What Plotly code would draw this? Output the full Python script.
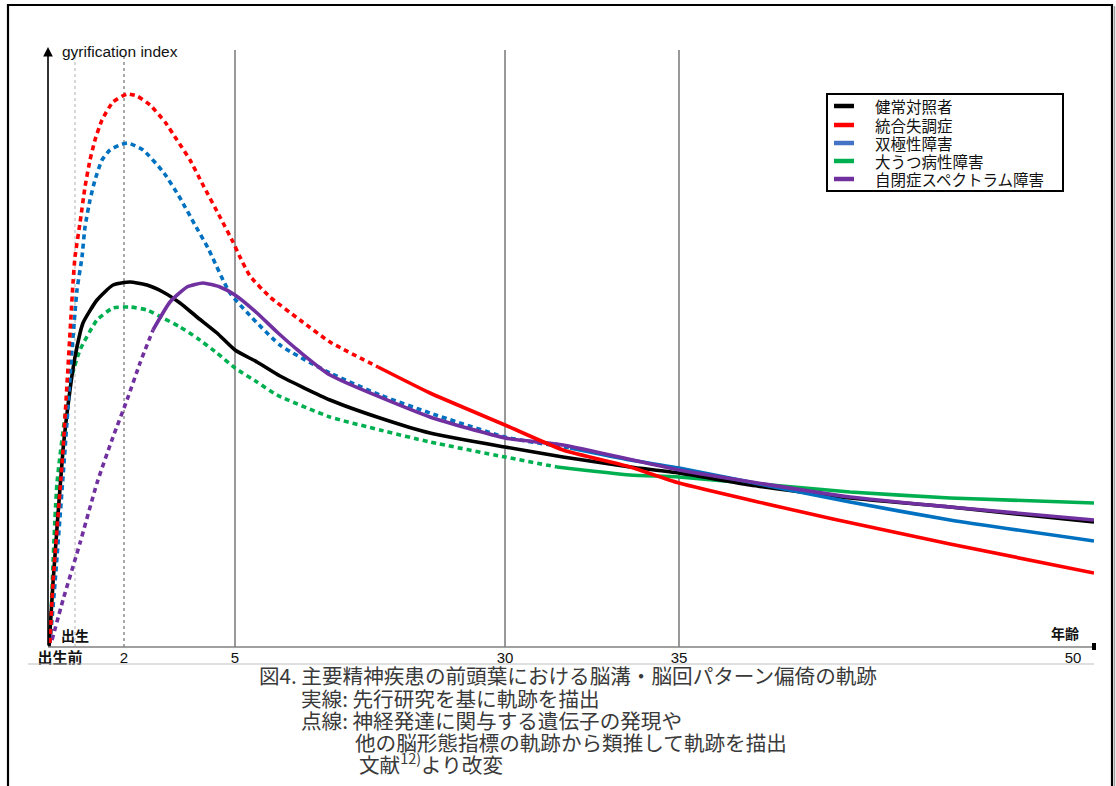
import plotly.graph_objects as go

# ---------------- data (schematic units: horizontal = position along the age axis,
# vertical = gyrification index, both arbitrary as in the original schematic) ----------
tick_pos = [12, 76, 187, 457, 631, 1025]
tick_text = ["出生前", "2", "5", "30", "35", "50"]
birth_pos = 27
dotted_guides = [27, 76]
solid_guides = [187, 457, 631]

series_names = ["健常対照者", "統合失調症", "双極性障害", "大うつ病性障害", "自閉症スペクトラム障害"]
series_colors = ["#000000", "#FF0000", "#0070C0", "#00B050", "#7030A0"]
legend_colors = ["#000000", "#FF0000", "#4472C4", "#00B050", "#7030A0"]

# 健常対照者 (solid throughout)
hc_x = [1, 5, 15, 22, 27, 35, 49, 65, 82, 99, 115, 132, 149, 169, 187, 209, 232,
        282, 332, 382, 457, 515, 582, 631, 702, 802, 902, 1046]
hc_y = [0, 64, 197, 257, 290, 324, 347, 362, 365, 362, 355, 344, 330, 314, 297, 285, 271,
        247, 229, 214, 200, 190, 180, 174, 162, 149, 140, 125]

# 統合失調症
scz_dot_x = [2, 5, 15, 25, 27, 32, 37, 42, 47, 54, 65, 79, 89, 102, 117, 129, 142, 155,
             172, 185, 192, 202, 222, 252, 282, 330]
scz_dot_y = [4, 64, 197, 364, 390, 424, 460, 487, 507, 527, 545, 553, 551, 542, 525, 507,
             487, 462, 430, 405, 390, 371, 350, 327, 305, 280]
scz_sol_x = [330, 382, 457, 515, 582, 631, 785, 902, 1046]
scz_sol_y = [280, 254, 222, 197, 180, 164, 128, 103, 74]

# 双極性障害
bp_dot_x = [2, 7, 17, 24, 29, 34, 37, 42, 47, 54, 62, 72, 80, 95, 116, 132, 147, 160,
            182, 232, 282, 332, 382, 457, 522]
bp_dot_y = [4, 64, 197, 297, 357, 390, 420, 447, 467, 487, 497, 502, 504, 497, 474, 449,
            422, 399, 354, 302, 274, 252, 234, 210, 199]
bp_sol_x = [522, 582, 631, 802, 902, 1046]
bp_sol_y = [199, 187, 179, 145, 127, 106]

# 大うつ病性障害
mdd_dot_x = [2, 9, 22, 32, 49, 65, 82, 99, 115, 132, 149, 169, 187, 209, 229, 282, 332,
             382, 457, 509]
mdd_dot_y = [4, 164, 264, 297, 327, 339, 340, 337, 329, 320, 309, 294, 279, 265, 252, 230,
             217, 205, 190, 180]
mdd_sol_x = [509, 582, 631, 802, 902, 1046]
mdd_sol_y = [180, 172, 170, 155, 149, 144]

# 自閉症スペクトラム障害
asd_dot_x = [4, 15, 32, 49, 65, 79, 92, 105]
asd_dot_y = [7, 47, 104, 164, 210, 247, 284, 317]
asd_sol_x = [105, 122, 139, 155, 172, 187, 209, 229, 252, 282, 382, 457, 515, 631, 802,
             902, 1046]
asd_sol_y = [317, 345, 360, 364, 360, 352, 334, 315, 295, 272, 230, 209, 202, 177, 150,
             140, 127]

caption_lines = [
    "図4. 主要精神疾患の前頭葉における脳溝・脳回パターン偏倚の軌跡",
    "実線: 先行研究を基に軌跡を描出",
    "点線: 神経発達に関与する遺伝子の発現や",
    "他の脳形態指標の軌跡から類推して軌跡を描出",
    "文献<sup>12)</sup>より改変",
]

# ---------------- figure geometry (pixels) ----------------
W, H = 1116, 786
L, R, T, B = 48, 1094, 47, 647          # plot area in pixels
XMAX, YMAX = R - L, B - T


def px(xp):
    return (xp - L) / (R - L)


def py(yp):
    return (B - yp) / (B - T)


CJK = "Noto Sans CJK JP"
LAT = "Liberation Sans, Arial, " + CJK
DOT = "5px,4px"
LW = 3.6

fig = go.Figure()


def add_line(x, y, color, dash):
    fig.add_trace(go.Scatter(x=x, y=y, mode="lines", showlegend=False, hoverinfo="skip",
                             line=dict(color=color, width=LW, dash=dash,
                                       shape="spline", smoothing=0.5)))


add_line(mdd_dot_x, mdd_dot_y, series_colors[3], DOT)
add_line(mdd_sol_x, mdd_sol_y, series_colors[3], "solid")
add_line(hc_x, hc_y, series_colors[0], "solid")
add_line(bp_dot_x, bp_dot_y, series_colors[2], DOT)
add_line(bp_sol_x, bp_sol_y, series_colors[2], "solid")
add_line(asd_dot_x, asd_dot_y, series_colors[4], DOT)
add_line(asd_sol_x, asd_sol_y, series_colors[4], "solid")
add_line(scz_dot_x, scz_dot_y, series_colors[1], DOT)
add_line(scz_sol_x, scz_sol_y, series_colors[1], "solid")

shapes = []
# guide lines
shapes.append(dict(type="line", xref="x", yref="paper", x0=dotted_guides[0], x1=dotted_guides[0],
                   y0=0, y1=py(55), line=dict(color="#b0b0b0", width=1, dash="dot"), layer="below"))
shapes.append(dict(type="line", xref="x", yref="paper", x0=dotted_guides[1], x1=dotted_guides[1],
                   y0=0, y1=py(57), line=dict(color="#555555", width=1, dash="dot"), layer="below"))
for g in solid_guides:
    shapes.append(dict(type="line", xref="x", yref="paper", x0=g, x1=g, y0=0, y1=py(50),
                       line=dict(color="#555555", width=1.2), layer="below"))
# x axis line, end mark and lower grey rule
shapes.append(dict(type="line", xref="paper", yref="paper", x0=0, x1=1, y0=0, y1=0,
                   line=dict(color="#808080", width=1.6)))
shapes.append(dict(type="rect", xref="paper", yref="paper", x0=px(1092), x1=px(1096),
                   y0=py(650), y1=py(643), fillcolor="black", line=dict(width=0)))
shapes.append(dict(type="line", xref="paper", yref="paper", x0=px(28), x1=px(1094),
                   y0=py(664), y1=py(664), line=dict(color="#c0c0c0", width=1.2)))
# outer frame
shapes.append(dict(type="line", xref="paper", yref="paper", x0=px(8), x1=px(8),
                   y0=py(4), y1=py(790), line=dict(color="black", width=2.2)))
shapes.append(dict(type="line", xref="paper", yref="paper", x0=px(7), x1=px(1113),
                   y0=py(5), y1=py(5), line=dict(color="black", width=2.2)))
shapes.append(dict(type="line", xref="paper", yref="paper", x0=px(1112), x1=px(1112),
                   y0=py(4), y1=py(790), line=dict(color="black", width=2.2)))
shapes.append(dict(type="line", xref="paper", yref="paper", x0=px(1114.5), x1=px(1114.5),
                   y0=py(6), y1=py(790), line=dict(color="#a0a0a0", width=1.5)))

annotations = []

# legend box (drawn by hand for the original's compact row spacing)
shapes.append(dict(type="rect", xref="paper", yref="paper", x0=px(827), x1=px(1063),
                   y0=py(191), y1=py(94), fillcolor="white",
                   line=dict(color="black", width=2)))
leg_rows = [106, 125, 143, 161, 179]
for name, col, ry in zip(series_names, legend_colors, leg_rows):
    shapes.append(dict(type="line", xref="paper", yref="paper", x0=px(834), x1=px(854),
                       y0=py(ry), y1=py(ry), line=dict(color=col, width=4.5)))
    annotations.append(dict(x=px(873), y=py(ry), xref="paper", yref="paper",
                            xanchor="left", yanchor="middle", showarrow=False, text=name,
                            font=dict(family=CJK, size=15.5, color="#111111")))

# y axis with arrow
annotations.append(dict(x=0, y=YMAX, xref="x", yref="y", ax=0, ay=YMAX, axref="pixel",
                        ayref="pixel", text="", showarrow=True, arrowhead=2, arrowsize=1.2,
                        arrowwidth=1.6, arrowcolor="black"))
annotations.append(dict(x=px(60), y=py(52), xref="paper", yref="paper", xanchor="left",
                        yanchor="middle", showarrow=False, text="gyrification index",
                        font=dict(family=LAT, size=15.5, color="#111111")))
annotations.append(dict(x=birth_pos, y=B - 635, xref="x", yref="y", xanchor="center",
                        yanchor="middle", showarrow=False, text="<b>出生</b>",
                        font=dict(family=CJK, size=14, color="#111111")))
annotations.append(dict(x=px(1065), y=py(633), xref="paper", yref="paper", xanchor="center",
                        yanchor="middle", showarrow=False, text="<b>年齢</b>",
                        font=dict(family=CJK, size=14, color="#111111")))
# caption
cap_x = [257, 299, 299, 353, 357]
cap_y = [675, 698, 720, 742, 763]
for t, cx, cy in zip(caption_lines, cap_x, cap_y):
    annotations.append(dict(x=px(cx), y=py(cy), xref="paper", yref="paper", xanchor="left",
                            yanchor="middle", showarrow=False, text=t,
                            font=dict(family=CJK, size=20.6, color="#3a3a3a")))

ticktext_fmt = [("<b><span style='font-size:15px'>%s</span></b>" % t) if i == 0 else t
                for i, t in enumerate(tick_text)]

fig.update_layout(
    width=W, height=H,
    margin=dict(l=L, r=W - R, t=T, b=H - B, pad=0),
    paper_bgcolor="white", plot_bgcolor="white",
    showlegend=False,
    xaxis=dict(range=[0, XMAX], tickvals=tick_pos, ticktext=ticktext_fmt, ticks="",
               showgrid=False, zeroline=False, showline=False, fixedrange=True,
               tickfont=dict(family=LAT, size=15, color="#111111")),
    yaxis=dict(range=[0, YMAX], showticklabels=False, showgrid=False, zeroline=False,
               showline=False, ticks="", fixedrange=True),
    shapes=shapes,
    annotations=annotations,
)

fig.write_html("out.html")
